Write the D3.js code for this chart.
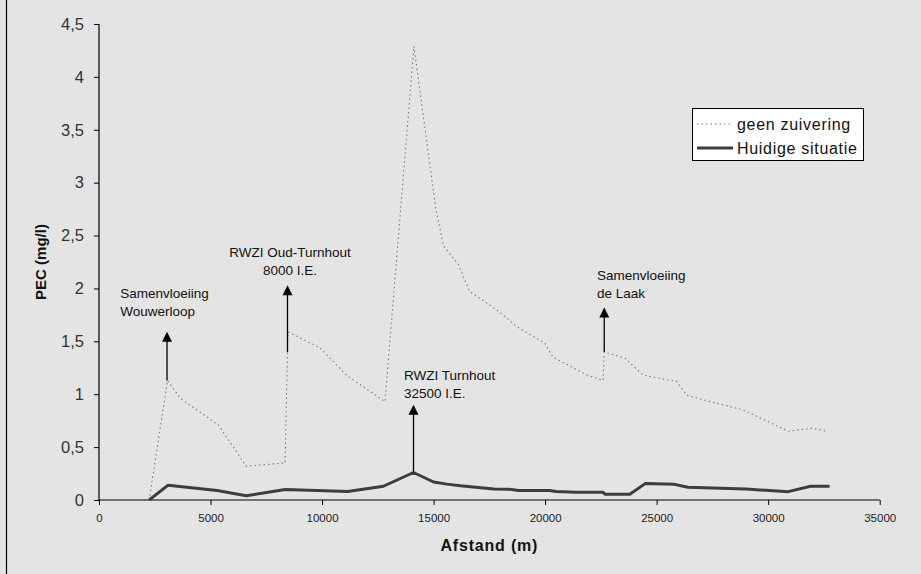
<!DOCTYPE html>
<html>
<head>
<meta charset="utf-8">
<script src="https://cdn.jsdelivr.net/npm/d3@7"></script>
<style>
  body { margin: 0; background: #e4e4e4; }
  svg { display: block; font-family: "Liberation Sans", Arial, sans-serif; }
</style>
</head>
<body>
<div id="chart"></div>
<script>
// distance along the river (m) and PEC (mg/l)
const geenX = [2250, 3070, 3650, 5350, 6600, 8340, 8470, 9900, 11100, 12820, 14120, 15100, 15450, 16100, 16620, 17400, 18000, 18720, 20000, 20350, 21900, 22600, 22650, 23580, 24400, 25900, 26350, 27400, 28900, 30900, 32000, 32600];
const geenY = [0, 1.13, 0.96, 0.71, 0.32, 0.35, 1.59, 1.44, 1.18, 0.93, 4.29, 2.75, 2.40, 2.23, 1.97, 1.86, 1.77, 1.64, 1.48, 1.35, 1.18, 1.13, 1.40, 1.34, 1.18, 1.12, 0.99, 0.93, 0.85, 0.65, 0.68, 0.65];

const huidigX = [2250, 3100, 5300, 6600, 8350, 11150, 12750, 14100, 15000, 15600, 16200, 17700, 18500, 18800, 20200, 20500, 21400, 22600, 22700, 23800, 24500, 25800, 26400, 29000, 30900, 31900, 32750];
const huidigY = [0, 0.14, 0.09, 0.04, 0.10, 0.08, 0.13, 0.26, 0.17, 0.15, 0.135, 0.105, 0.10, 0.09, 0.09, 0.08, 0.073, 0.073, 0.054, 0.054, 0.157, 0.148, 0.12, 0.104, 0.079, 0.13, 0.13];

const xTicks = [0, 5000, 10000, 15000, 20000, 25000, 30000, 35000];
const yTicks = [0, 0.5, 1, 1.5, 2, 2.5, 3, 3.5, 4, 4.5];

const legendNames = ["geen zuivering", "Huidige situatie"];

// annotations: arrow at x, from y0 up to y1, text lines
const annX = [3050, 8450, 14100, 22650];
const annFrom = [1.13, 1.40, 0.26, 1.40];
const annTo = [1.59, 2.03, 0.90, 1.82];
const annText = [
  ["Samenvloeiing", "Wouwerloop"],
  ["RWZI Oud-Turnhout", "8000 I.E."],
  ["RWZI Turnhout", "32500 I.E."],
  ["Samenvloeiing", "de Laak"]
];
const annTextX = [950, 8560, 13670, 22330];
const annTextY = [1.91, 2.30, 1.13, 2.08];
const annAnchor = ["start", "middle", "start", "start"];

const W = 921, H = 574;
const svg = d3.select("#chart").append("svg").attr("width", W).attr("height", H);

svg.append("rect").attr("width", W).attr("height", H).attr("fill", "#e4e4e4");
svg.append("line").attr("x1", 6.5).attr("x2", 6.5).attr("y1", 0).attr("y2", H)
  .attr("stroke", "#000").attr("stroke-width", 1.2);

const x = d3.scaleLinear().domain([0, 35000]).range([99, 879.7]);
const y = d3.scaleLinear().domain([0, 4.5]).range([500, 24]);

// axes
const yAxis = svg.append("g").attr("transform", "translate(99,0)")
  .call(d3.axisLeft(y).tickValues(yTicks).tickSize(5).tickPadding(10)
    .tickFormat(d => String(d).replace(".", ",")));
yAxis.selectAll("text").attr("font-size", 16.5).attr("fill", "#333").attr("font-family", "Liberation Sans, Arial");

const xAxis = svg.append("g").attr("transform", "translate(0,500)")
  .call(d3.axisBottom(x).tickValues(xTicks).tickSize(5).tickPadding(9)
    .tickFormat(d3.format("d")));
xAxis.selectAll("text").attr("font-size", 11.5).attr("fill", "#222").attr("font-family", "Liberation Sans, Arial");
svg.selectAll(".domain").attr("stroke", "#000").attr("stroke-width", 1.2);
svg.selectAll(".tick line").attr("stroke", "#000");
// remove the end caps d3 adds on the domain
yAxis.select(".domain").attr("d", `M0,${y(4.5)}V${y(0)}`);
xAxis.select(".domain").attr("d", `M${x(0)},0H${x(35000)}`);

// axis titles
svg.append("text").attr("transform", `translate(46,${(y(0) + y(4.5)) / 2}) rotate(-90)`)
  .attr("text-anchor", "middle").attr("font-weight", "bold").attr("font-size", 15)
  .attr("fill", "#111").text("PEC (mg/l)");
svg.append("text").attr("x", (x(0) + x(35000)) / 2).attr("y", 551)
  .attr("text-anchor", "middle").attr("font-weight", "bold").attr("font-size", 16)
  .attr("letter-spacing", 0.8).attr("fill", "#111").text("Afstand (m)");

// lines
const line = d3.line().x(d => x(d[0])).y(d => y(d[1]));
svg.append("path").datum(d3.zip(geenX, geenY)).attr("d", line)
  .attr("fill", "none").attr("stroke", "#777").attr("stroke-width", 1.1)
  .attr("stroke-dasharray", "1.5,3");
svg.append("path").datum(d3.zip(huidigX, huidigY)).attr("d", line)
  .attr("fill", "none").attr("stroke", "#3d3d3d").attr("stroke-width", 3)
  .attr("stroke-linejoin", "round");

// annotations
annX.forEach((ax, i) => {
  svg.append("line").attr("x1", x(ax)).attr("x2", x(ax))
    .attr("y1", y(annFrom[i])).attr("y2", y(annTo[i]) + 2)
    .attr("stroke", "#000").attr("stroke-width", 1.3);
  svg.append("path")
    .attr("d", `M${x(ax) - 5},${y(annTo[i]) + 10}L${x(ax)},${y(annTo[i])}L${x(ax) + 5},${y(annTo[i]) + 10}Z`)
    .attr("fill", "#000");
  const t = svg.append("text").attr("font-size", 13.5).attr("fill", "#111")
    .attr("text-anchor", annAnchor[i]);
  annText[i].forEach((s, j) => {
    t.append("tspan").attr("x", x(annTextX[i])).attr("y", y(annTextY[i]) + j * 18).text(s);
  });
});

// legend
const lg = svg.append("g").attr("transform", "translate(692,108)");
lg.append("rect").attr("x", 0.5).attr("y", 0.5).attr("width", 171).attr("height", 52)
  .attr("fill", "#fff").attr("stroke", "#000").attr("stroke-width", 1);
legendNames.forEach((name, i) => {
  const ly = 16 + i * 24;
  lg.append("line").attr("x1", 5).attr("x2", 41).attr("y1", ly).attr("y2", ly)
    .attr("stroke", i === 0 ? "#777" : "#3d3d3d")
    .attr("stroke-width", i === 0 ? 1.1 : 3)
    .attr("stroke-dasharray", i === 0 ? "1.5,3" : null);
  lg.append("text").attr("x", 45).attr("y", ly + 6).attr("font-size", 16)
    .attr("letter-spacing", 0.7).attr("fill", "#111").text(name);
});
</script>
</body>
</html>
